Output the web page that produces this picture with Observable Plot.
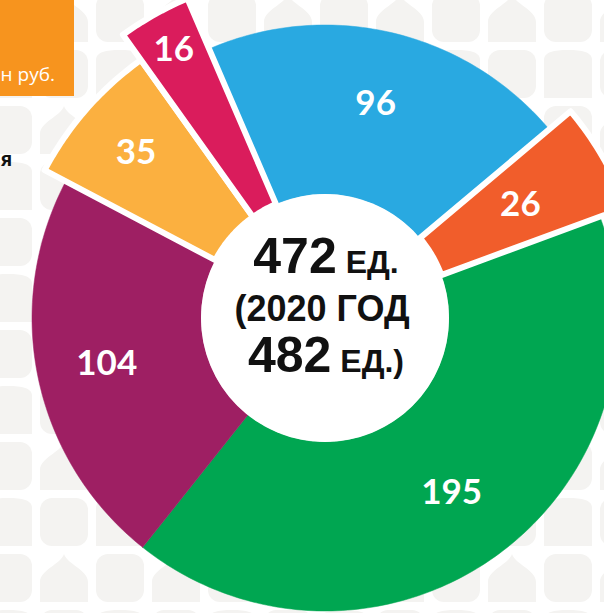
<!DOCTYPE html>
<html>
<head>
<meta charset="utf-8">
<script src="https://cdn.jsdelivr.net/npm/d3@7"></script>
<script src="https://cdn.jsdelivr.net/npm/@observablehq/plot@0.6"></script>
<style>
  body { margin: 0; background: #fff; }
  #wrap {
    position: relative; width: 604px; height: 613px; overflow: hidden;
    background-color: #fff;
    background-image: url("data:image/svg+xml,%3Csvg xmlns='http://www.w3.org/2000/svg' width='112' height='112'%3E%3Cg fill='%23f4f3f1'%3E%3Crect x='4' y='4' width='48' height='48' rx='12'/%3E%3Cpath d='M60 52 V32 C60 20 81 14 84 4 C87 14 108 20 108 32 V52 Z'/%3E%3Cpath d='M4 108 V70 C4 62 14 60 28 60 C42 60 52 62 52 70 V108 Z'/%3E%3Crect x='60' y='60' width='48' height='48' rx='12'/%3E%3C/g%3E%3C/svg%3E");
    background-position: -20px -10px;
  }
  #wrap > svg { position: absolute; left: 0; top: 0; }
</style>
</head>
<body>
<div id="wrap"></div>
<script>
// ---- data ----
const values = [96, 26, 195, 104, 35, 16];
const labels = ["96", "26", "195", "104", "35", "16"];
const colors = ["#29a9e1", "#f15d2b", "#00a651", "#9e1f63", "#fbb040", "#da1c5c"];
const unitLabel = "ЕД.";
const prevYearLabel = "2020 ГОД";
const prevTotal = 482;
const boxText = "н руб.";
const sideText = "я";

// ---- layout ----
const W = 604, H = 613;
const cx = 324.5, cy = 317.5;
const startDeg = -23.3;
const innerR = 124;
const outerR = [293, 321, 293, 293, 317, 348];
const labelR = [220, 226, 216, 223, 251, 308];
const gapStroke = [0, 6, 0, 0, 6, 6];

const a0 = startDeg * Math.PI / 180;
const arcs = d3.pie().sort(null).value(d => d).startAngle(a0).endAngle(a0 + 2 * Math.PI)(values);

const polys = [];
const labelData = [];
arcs.forEach((a, i) => {
  const span = a.endAngle - a.startAngle;
  const n = Math.max(8, Math.ceil(span * 180 / Math.PI));
  const pts = [];
  for (let k = 0; k <= n; k++) {
    const t = a.startAngle + span * k / n;
    pts.push([outerR[i] * Math.sin(t), -outerR[i] * Math.cos(t)]);
  }
  for (let k = n; k >= 0; k--) {
    const t = a.startAngle + span * k / n;
    pts.push([innerR * Math.sin(t), -innerR * Math.cos(t)]);
  }
  pts.push(pts[0]);
  pts.forEach(([x, y]) => polys.push({id: i, x, y, color: colors[i], gap: gapStroke[i] > 0}));
  const m = (a.startAngle + a.endAngle) / 2;
  labelData.push({x: labelR[i] * Math.sin(m), y: -labelR[i] * Math.cos(m), text: labels[i]});
});

const chart = Plot.plot({
  width: W, height: H, margin: 0,
  x: {domain: [-cx, W - cx], range: [0, W], axis: null},
  y: {domain: [-cy, H - cy], range: [0, H], axis: null},
  color: {type: "identity"},
  style: {background: "transparent", overflow: "visible"},
  marks: [
    Plot.line(polys.filter(d => !d.gap), {x: "x", y: "y", z: "id", fill: "color", stroke: "color", strokeWidth: 0.5, curve: "linear"}),
    Plot.line(polys.filter(d => d.gap), {x: "x", y: "y", z: "id", fill: "color", stroke: "white", strokeWidth: 6, strokeLinejoin: "miter", curve: "linear"}),
    Plot.dot([{x: 0, y: 0}], {x: "x", y: "y", r: innerR, fill: "white", stroke: "none"}),
    Plot.text(labelData, {x: "x", y: "y", text: "text", fill: "white", fontSize: 35, fontWeight: 700, fontFamily: "Lato"})
  ]
});

const wrap = document.getElementById("wrap");
wrap.appendChild(chart);

// center text
const svg = d3.select(chart);
const total = d3.sum(values);
const px = 326;
const ct = svg.append("g")
  .attr("font-family", "'Liberation Sans', Arial, sans-serif")
  .attr("font-weight", 700)
  .attr("fill", "#111")
  .attr("text-anchor", "middle");
const l1 = ct.append("text").attr("x", px).attr("y", 273);
l1.append("tspan").attr("font-size", 50).text(String(total));
l1.append("tspan").attr("font-size", 32).text(" " + unitLabel);
ct.append("text").attr("x", 322).attr("y", 321).attr("font-size", 36).text("(" + prevYearLabel);
const l3 = ct.append("text").attr("x", px).attr("y", 372);
l3.append("tspan").attr("font-size", 50).text(String(prevTotal));
l3.append("tspan").attr("font-size", 32).text(" " + unitLabel + ")");

// overlay: cropped neighbour content
const ov = d3.select(wrap).append("svg").attr("width", W).attr("height", H).style("pointer-events", "none");
ov.append("rect").attr("x", 0).attr("y", 0).attr("width", 74).attr("height", 96).attr("fill", "#f7941e");
ov.append("text").attr("x", 55).attr("y", 81).attr("text-anchor", "end")
  .attr("font-family", "'Open Sans', sans-serif").attr("font-size", 19).attr("fill", "#fff").text(boxText);
ov.append("text").attr("x", 1).attr("y", 166).attr("text-anchor", "start")
  .attr("font-family", "'Open Sans', sans-serif").attr("font-weight", 700).attr("font-size", 19).attr("fill", "#111").text(sideText);
</script>
</body>
</html>
